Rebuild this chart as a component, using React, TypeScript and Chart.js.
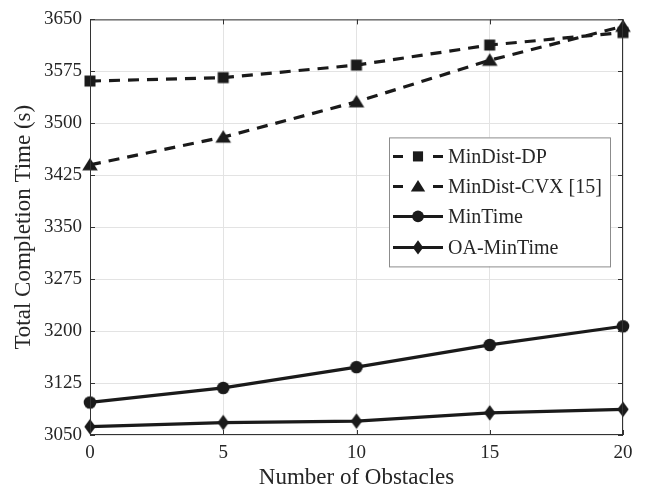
import React, { useEffect, useRef } from 'react';
import { Chart, registerables } from 'chart.js';

Chart.register(...registerables);

const obstacles = [0, 5, 10, 15, 20];
const minDistDP = [3561, 3566, 3584, 3613, 3631];
const minDistCVX = [3440, 3480, 3531, 3591, 3640];
const minTime = [3097, 3118, 3148, 3180, 3207];
const oaMinTime = [3062, 3068, 3070, 3082, 3087];
const seriesLabels = ['MinDist-DP', 'MinDist-CVX [15]', 'MinTime', 'OA-MinTime'];
const seriesMarkers = ['square', 'triangle', 'circle', 'diamond'];
const seriesDashed = [true, true, false, false];
const xTickValues = [0, 5, 10, 15, 20];
const yTickValues = [3050, 3125, 3200, 3275, 3350, 3425, 3500, 3575, 3650];
const xTitle = 'Number of Obstacles';
const yTitle = 'Total Completion Time (s)';

const INK = '#1a1a1a';
const AXIS = '#333333';
const GRID = '#e3e3e3';
const FONT = "'Liberation Serif', 'Times New Roman', serif";

function drawMarker(ctx: CanvasRenderingContext2D, kind: string, x: number, y: number, scale = 1) {
  ctx.save();
  ctx.fillStyle = INK;
  ctx.beginPath();
  if (kind === 'square') {
    const h = 5.5 * scale;
    ctx.rect(x - h, y - h, 2 * h, 2 * h);
  } else if (kind === 'triangle') {
    ctx.moveTo(x, y - 7 * scale);
    ctx.lineTo(x + 7.8 * scale, y + 5.5 * scale);
    ctx.lineTo(x - 7.8 * scale, y + 5.5 * scale);
    ctx.closePath();
  } else if (kind === 'circle') {
    ctx.arc(x, y, 6.3 * scale, 0, Math.PI * 2);
  } else {
    ctx.moveTo(x, y - 7.8 * scale);
    ctx.lineTo(x + 5.7 * scale, y);
    ctx.lineTo(x, y + 7.8 * scale);
    ctx.lineTo(x - 5.7 * scale, y);
    ctx.closePath();
  }
  ctx.fill();
  ctx.restore();
}

function makeMarkerCanvas(kind: string): HTMLCanvasElement {
  const c = document.createElement('canvas');
  c.width = 20;
  c.height = 20;
  const g = c.getContext('2d')!;
  drawMarker(g, kind, 10, 10);
  return c;
}

const frameAndLegend = {
  id: 'frameAndLegend',
  afterDraw(chart: any) {
    const ctx: CanvasRenderingContext2D = chart.ctx;
    const { left, right, top, bottom } = chart.chartArea;
    const xs = chart.scales.x;
    const ys = chart.scales.y;
    ctx.save();
    ctx.strokeStyle = AXIS;
    ctx.lineWidth = 1;
    ctx.strokeRect(left + 0.5, top + 0.5, right - left - 1, bottom - top - 1);
    ctx.beginPath();
    const tl = 5;
    xTickValues.forEach((v) => {
      const px = Math.round(xs.getPixelForValue(v)) + 0.5;
      ctx.moveTo(px, bottom);
      ctx.lineTo(px, bottom - tl);
      ctx.moveTo(px, top);
      ctx.lineTo(px, top + tl);
    });
    yTickValues.forEach((v) => {
      const py = Math.round(ys.getPixelForValue(v)) + 0.5;
      ctx.moveTo(left, py);
      ctx.lineTo(left + tl, py);
      ctx.moveTo(right, py);
      ctx.lineTo(right - tl, py);
    });
    ctx.stroke();

    // legend box
    const bx = right - 234;
    const by = top + 118;
    const bw = 221;
    const bh = 129;
    ctx.fillStyle = '#ffffff';
    ctx.fillRect(bx, by, bw, bh);
    ctx.strokeStyle = '#8c8c8c';
    ctx.lineWidth = 1;
    ctx.strokeRect(bx + 0.5, by + 0.5, bw, bh);
    const rows = [19, 49, 79, 110];
    chart.data.datasets.forEach((ds: any, i: number) => {
      const cy = by + rows[i];
      const x0 = bx + 4;
      const x1 = bx + 54;
      const cx = (x0 + x1) / 2;
      ctx.strokeStyle = INK;
      ctx.lineWidth = 3;
      ctx.setLineDash([]);
      ctx.beginPath();
      if (seriesDashed[i]) {
        ctx.moveTo(x0, cy);
        ctx.lineTo(x0 + 10, cy);
        ctx.moveTo(x1 - 10, cy);
        ctx.lineTo(x1, cy);
      } else {
        ctx.moveTo(x0, cy);
        ctx.lineTo(x1, cy);
      }
      ctx.stroke();
      drawMarker(ctx, seriesMarkers[i], cx, cy, 0.92);
      ctx.fillStyle = '#262626';
      ctx.font = `20px ${FONT}`;
      ctx.textAlign = 'left';
      ctx.textBaseline = 'middle';
      ctx.fillText(ds.label, bx + 59, cy + 1);
    });
    ctx.restore();
  },
};

export default function App() {
  const ref = useRef<HTMLCanvasElement>(null);
  useEffect(() => {
    document.body.style.margin = '0';
    const canvas = ref.current!;
    const seriesValues = [minDistDP, minDistCVX, minTime, oaMinTime];
    const datasets = seriesValues.map((vals, i) => ({
      label: seriesLabels[i],
      data: obstacles.map((x, j) => ({ x, y: vals[j] })),
      borderColor: INK,
      backgroundColor: INK,
      borderWidth: 3.2,
      borderDash: seriesDashed[i] ? [11, 8] : [],
      pointStyle: makeMarkerCanvas(seriesMarkers[i]),
      pointRadius: 6,
      tension: 0,
      clip: false as any,
    }));
    const chart = new Chart(canvas, {
      type: 'line',
      data: { datasets },
      options: {
        animation: false,
        responsive: false,
        layout: { padding: { left: 0, top: 15, right: 29, bottom: 0 } },
        plugins: { legend: { display: false }, tooltip: { enabled: false } },
        scales: {
          x: {
            type: 'linear',
            min: 0,
            max: 20,
            afterFit: (s: any) => { s.height = 58; },
            afterBuildTicks: (s: any) => { s.ticks = xTickValues.map((v) => ({ value: v })); },
            grid: { color: GRID, drawTicks: false },
            border: { display: false },
            ticks: { color: '#262626', font: { family: FONT, size: 19 }, padding: 7, maxRotation: 0, callback: (v: any) => String(v) },
            title: { display: true, text: xTitle, color: '#262626', font: { family: FONT, size: 23 }, padding: { top: 0, bottom: 1 } },
          },
          y: {
            type: 'linear',
            min: 3050,
            max: 3650,
            afterFit: (s: any) => { s.width = 90; },
            afterBuildTicks: (s: any) => { s.ticks = yTickValues.map((v) => ({ value: v })); },
            grid: { color: GRID, drawTicks: false },
            border: { display: false },
            ticks: { color: '#262626', font: { family: FONT, size: 19 }, padding: 8, callback: (v: any) => String(v) },
            title: { display: true, text: yTitle, color: '#262626', font: { family: FONT, size: 23 }, padding: { top: 10, bottom: 0 } },
          },
        },
      },
      plugins: [frameAndLegend],
    });
    return () => chart.destroy();
  }, []);
  return <canvas ref={ref} width={652} height={493} style={{ display: 'block' }} />;
}
